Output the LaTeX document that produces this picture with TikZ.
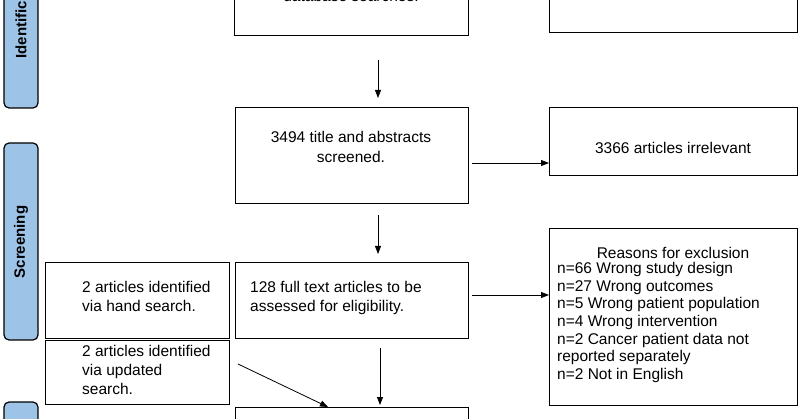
\documentclass[tikz,border=0pt]{standalone}
\usepackage{fontspec}
\setmainfont{Liberation Sans}
\usetikzlibrary{arrows.meta}
\definecolor{barblue}{HTML}{9DC3E6}
\begin{document}
\begin{tikzpicture}[x=1pt,y=-1pt,
 box/.style={draw,line width=1.3pt,fill=white},
 arr/.style={-{Triangle[length=8pt,width=6pt]},line width=0.8pt},
 bar/.style={draw,line width=1.2pt,fill=barblue,rounded corners=5pt},
 lab/.style={rotate=90,font=\bfseries\fontsize{15}{17}\selectfont},
 txt/.style={font=\fontsize{15.5}{19}\selectfont,align=left,anchor=north west,inner sep=0}]
\useasboundingbox (0,0) rectangle (800,419);
\clip (0,0) rectangle (800,419);
% side bars
\draw[bar] (4,-20) rectangle (38,108);
\node[lab,anchor=west] (lid) at (21,62) {Identification};
\draw[bar] (4,143) rectangle (38,340);
\node[lab] (lsc) at (21,242) {Screening};
\draw[bar] (4,402) rectangle (38,440);
% boxes
\node[box,minimum width=234,minimum height=80,anchor=south west] (b1) at (234,36) {};
\node[txt,anchor=center] (t1) at (351,-4) {database searches.};
\node[box,minimum width=248,minimum height=80,anchor=south west] (r1) at (549,33) {};
\node[box,minimum width=233,minimum height=96,anchor=north west] (b2) at (235,107) {};
\node[font=\fontsize{15.5}{20}\selectfont,align=center] at (351,147) {3494 title and abstracts\\screened.};
\node[box,minimum width=248,minimum height=68,anchor=north west] (r2) at (549,107) {};
\node[font=\fontsize{15.5}{18}\selectfont] at (673,148) {3366 articles irrelevant};
\node[box,minimum width=184,minimum height=76,anchor=north west] (h) at (45,262) {};
\node[txt] at (82,281) {2 articles identified\\via hand search.};
\node[box,minimum width=233,minimum height=76,anchor=north west] (b3) at (235,262) {};
\node[txt] at (250,281) {128 full text articles to be\\assessed for eligibility.};
\node[box,minimum width=248,minimum height=177,anchor=north west] (r3) at (549,228) {};
\node[font=\fontsize{15.5}{18}\selectfont] at (673,253) {Reasons for exclusion};
\node[font=\fontsize{15.5}{17.7}\selectfont,align=left,anchor=north west,inner sep=0] at (557,262) {n=66 Wrong study design\\n=27 Wrong outcomes\\n=5 Wrong patient population\\n=4 Wrong intervention\\n=2 Cancer patient data not\\reported separately\\n=2 Not in English};
\node[box,minimum width=184,minimum height=64,anchor=north west] (u) at (45,340) {};
\node[txt] at (82,345) {2 articles identified\\via updated\\search.};
\node[box,minimum width=233,minimum height=40,anchor=north west] (b4) at (235,407) {};
% arrows
\coordinate (a1s) at (378,60); \coordinate (a1e) at (378,98);
\draw[arr] (a1s) -- (a1e);
\coordinate (a2s) at (472,163); \coordinate (a2e) at (549,163);
\draw[arr] (a2s) -- (a2e);
\coordinate (a3s) at (378,215); \coordinate (a3e) at (378,254);
\draw[arr] (a3s) -- (a3e);
\coordinate (a4s) at (472,295); \coordinate (a4e) at (549,295);
\draw[arr] (a4s) -- (a4e);
\coordinate (a5s) at (238,364); \coordinate (a5e) at (328,407);
\draw[arr] (a5s) -- (a5e);
\coordinate (a6s) at (380,348); \coordinate (a6e) at (380,405);
\draw[arr] (a6s) -- (a6e);
\end{tikzpicture}
\end{document}
